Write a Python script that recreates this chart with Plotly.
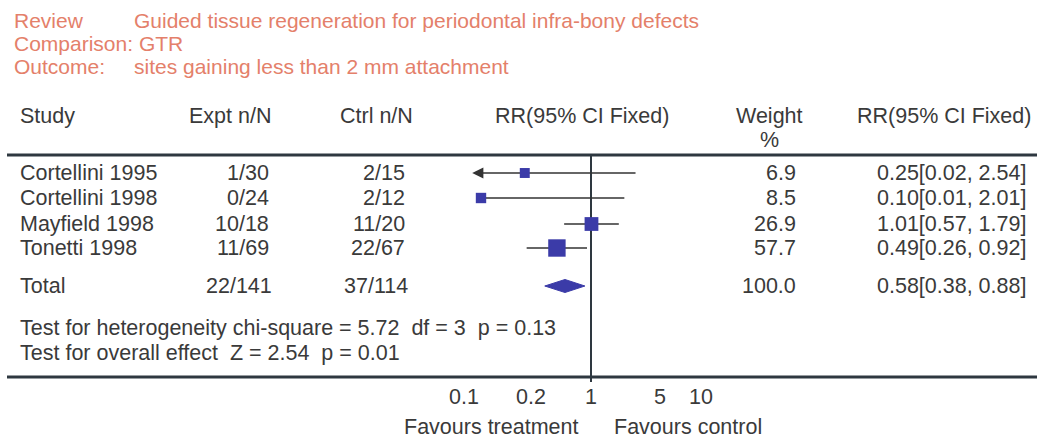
import math
import plotly.graph_objects as go

# ---------------- data ----------------
studies = ["Cortellini 1995", "Cortellini 1998", "Mayfield 1998", "Tonetti 1998"]
expt = ["1/30", "0/24", "10/18", "11/69"]
ctrl = ["2/15", "2/12", "11/20", "22/67"]
rr = [0.25, 0.10, 1.01, 0.49]
ci_lo = [0.02, 0.01, 0.57, 0.26]
ci_hi = [2.54, 2.01, 1.79, 0.92]
weight = [6.9, 8.5, 26.9, 57.7]

total_label = "Total"
total_expt = "22/141"
total_ctrl = "37/114"
total_rr = 0.58
total_lo = 0.38
total_hi = 0.88
total_weight = 100.0

het_text = "Test for heterogeneity chi-square = 5.72\u00a0 df = 3\u00a0 p = 0.13"
overall_text = "Test for overall effect\u00a0 Z = 2.54\u00a0 p = 0.01"

tick_vals = [0.1, 0.2, 1, 5, 10]
tick_text = ["0.1", "0.2", "1", "5", "10"]

title_review = ("Review", "Guided tissue regeneration for periodontal infra-bony defects")
title_comparison = "Comparison: GTR"
title_outcome = ("Outcome:", "sites gaining less than 2 mm attachment")

# ---------------- layout constants ----------------
W, H = 1037, 439
FONT = "Liberation Sans, Arial, Helvetica, sans-serif"
FS = 21.5
FS_TITLE = 21
TXT = "#3a3a3a"
TITLE_C = "#E4806A"
MARK_C = "#3B3BA8"
LINE_C = "#2E3840"

ROW_Y = [173, 198, 224, 248]
TOTAL_Y = 286
HEADER_Y = 116
HEADER2_Y = 140
HET_Y = 328
OVR_Y = 353
TICK_Y = 397
FAV_Y = 427
TITLE_Y = [20, 43, 66]
RULE_TOP = 155
RULE_BOT = 377

X_STUDY = 18
X_EXPT = 271
X_CTRL = 407
X_MID = 582
X_WEIGHT = 798
X_WEIGHT_HDR = 769
X_RR = 1028
X_TITLE1 = 12
X_TITLE2 = 132
TICK_ANCHORS = ["right", "left", "center", "right", "center"]

# forest axis: 1 at x=591 px, 110 px per decade
ONE_PX = 591
PX_DEC = 110
LOG_RANGE = 1.3
dom0 = (ONE_PX - LOG_RANGE * PX_DEC) / W
dom1 = (ONE_PX + LOG_RANGE * PX_DEC) / W
CLIP_LO, CLIP_HI = 0.1, 10
ARROW_DEC = 0.08  # arrow extension in decades


def px(x):
    return x / W


fig = go.Figure()

# vertical line of no effect
fig.add_trace(go.Scatter(x=[1, 1], y=[RULE_TOP, RULE_BOT + 5], mode="lines",
                         line=dict(color=LINE_C, width=2), hoverinfo="skip"))

annotations = []
# CI lines and squares
for i in range(len(studies)):
    lo = max(ci_lo[i], CLIP_LO)
    hi = min(ci_hi[i], CLIP_HI)
    fig.add_trace(go.Scatter(x=[lo, hi], y=[ROW_Y[i], ROW_Y[i]], mode="lines",
                             line=dict(color="#333333", width=1.6), hoverinfo="skip"))
    if ci_lo[i] < CLIP_LO and rr[i] > CLIP_LO:
        annotations.append(dict(x=math.log10(CLIP_LO) - ARROW_DEC, y=ROW_Y[i],
                                ax=math.log10(CLIP_LO), ay=ROW_Y[i], xref="x", yref="y",
                                axref="x", ayref="y", text="", showarrow=True,
                                arrowhead=2, arrowsize=1.4, arrowwidth=1.6,
                                arrowcolor="#333333"))
    fig.add_trace(go.Scatter(x=[rr[i]], y=[ROW_Y[i]], mode="markers",
                             marker=dict(symbol="square", color=MARK_C,
                                         size=6 + 1.5 * math.sqrt(weight[i]),
                                         line=dict(width=0)),
                             hoverinfo="skip"))

# diamond for total
DH = 6.5
fig.add_trace(go.Scatter(x=[total_lo, total_rr, total_hi, total_rr, total_lo],
                         y=[TOTAL_Y, TOTAL_Y - DH, TOTAL_Y, TOTAL_Y + DH, TOTAL_Y],
                         mode="lines", fill="toself", fillcolor=MARK_C,
                         line=dict(color=MARK_C, width=1), hoverinfo="skip"))


def txt(x, y, s, anchor="left", color=TXT, size=FS):
    annotations.append(dict(x=px(x), y=y, xref="paper", yref="y", text=s,
                            showarrow=False, xanchor=anchor, yanchor="middle",
                            font=dict(family=FONT, size=size, color=color)))


# title block
txt(X_TITLE1, TITLE_Y[0], title_review[0], color=TITLE_C, size=FS_TITLE)
txt(X_TITLE2, TITLE_Y[0], title_review[1], color=TITLE_C, size=FS_TITLE)
txt(X_TITLE1, TITLE_Y[1], title_comparison, color=TITLE_C, size=FS_TITLE)
txt(X_TITLE1, TITLE_Y[2], title_outcome[0], color=TITLE_C, size=FS_TITLE)
txt(X_TITLE2, TITLE_Y[2], title_outcome[1], color=TITLE_C, size=FS_TITLE)

# headers
txt(X_STUDY, HEADER_Y, "Study")
txt(X_EXPT + 2, HEADER_Y, "Expt n/N", "right")
txt(X_CTRL + 8, HEADER_Y, "Ctrl n/N", "right")
txt(X_MID, HEADER_Y, "RR(95% CI Fixed)", "center")
txt(X_WEIGHT_HDR, HEADER_Y, "Weight", "center")
txt(X_WEIGHT_HDR, HEADER2_Y, "%", "center")
txt(X_RR + 5, HEADER_Y, "RR(95% CI Fixed)", "right")

# rows
for i in range(len(studies)):
    y = ROW_Y[i]
    txt(X_STUDY, y, studies[i])
    txt(X_EXPT, y, expt[i], "right")
    txt(X_CTRL, y, ctrl[i], "right")
    txt(X_WEIGHT, y, f"{weight[i]:.1f}", "right")
    txt(X_RR, y, f"{rr[i]:.2f}[{ci_lo[i]:.2f}, {ci_hi[i]:.2f}]", "right")

txt(X_STUDY, TOTAL_Y, total_label)
txt(X_EXPT + 3, TOTAL_Y, total_expt, "right")
txt(X_CTRL + 3, TOTAL_Y, total_ctrl, "right")
txt(X_WEIGHT, TOTAL_Y, f"{total_weight:.1f}", "right")
txt(X_RR, TOTAL_Y, f"{total_rr:.2f}[{total_lo:.2f}, {total_hi:.2f}]", "right")

txt(X_STUDY, HET_Y, het_text)
txt(X_STUDY, OVR_Y, overall_text)

# tick labels on the log scale
for v, t, a in zip(tick_vals, tick_text, TICK_ANCHORS):
    annotations.append(dict(x=math.log10(v), y=TICK_Y, xref="x", yref="y", text=t,
                            showarrow=False, xanchor=a, yanchor="middle",
                            font=dict(family=FONT, size=FS, color=TXT)))

txt(ONE_PX - 11, FAV_Y, "Favours treatment", "right")
txt(ONE_PX + 21, FAV_Y, "Favours control", "left")

shapes = [
    dict(type="line", xref="paper", yref="y", x0=px(7), x1=1, y0=RULE_TOP, y1=RULE_TOP,
         line=dict(color=LINE_C, width=3)),
    dict(type="line", xref="paper", yref="y", x0=px(7), x1=1, y0=RULE_BOT, y1=RULE_BOT,
         line=dict(color=LINE_C, width=3)),
]

fig.update_layout(
    width=W, height=H, margin=dict(l=0, r=0, t=0, b=0),
    paper_bgcolor="white", plot_bgcolor="rgba(0,0,0,0)",
    showlegend=False,
    xaxis=dict(type="log", domain=[dom0, dom1], range=[-LOG_RANGE, LOG_RANGE],
               visible=False, fixedrange=True),
    yaxis=dict(range=[H, 0], domain=[0, 1], visible=False, fixedrange=True),
    annotations=annotations, shapes=shapes,
)

fig.write_html("out.html", config={"displayModeBar": False},
               post_script="document.body.style.margin='0px';document.body.style.overflow='hidden';")
